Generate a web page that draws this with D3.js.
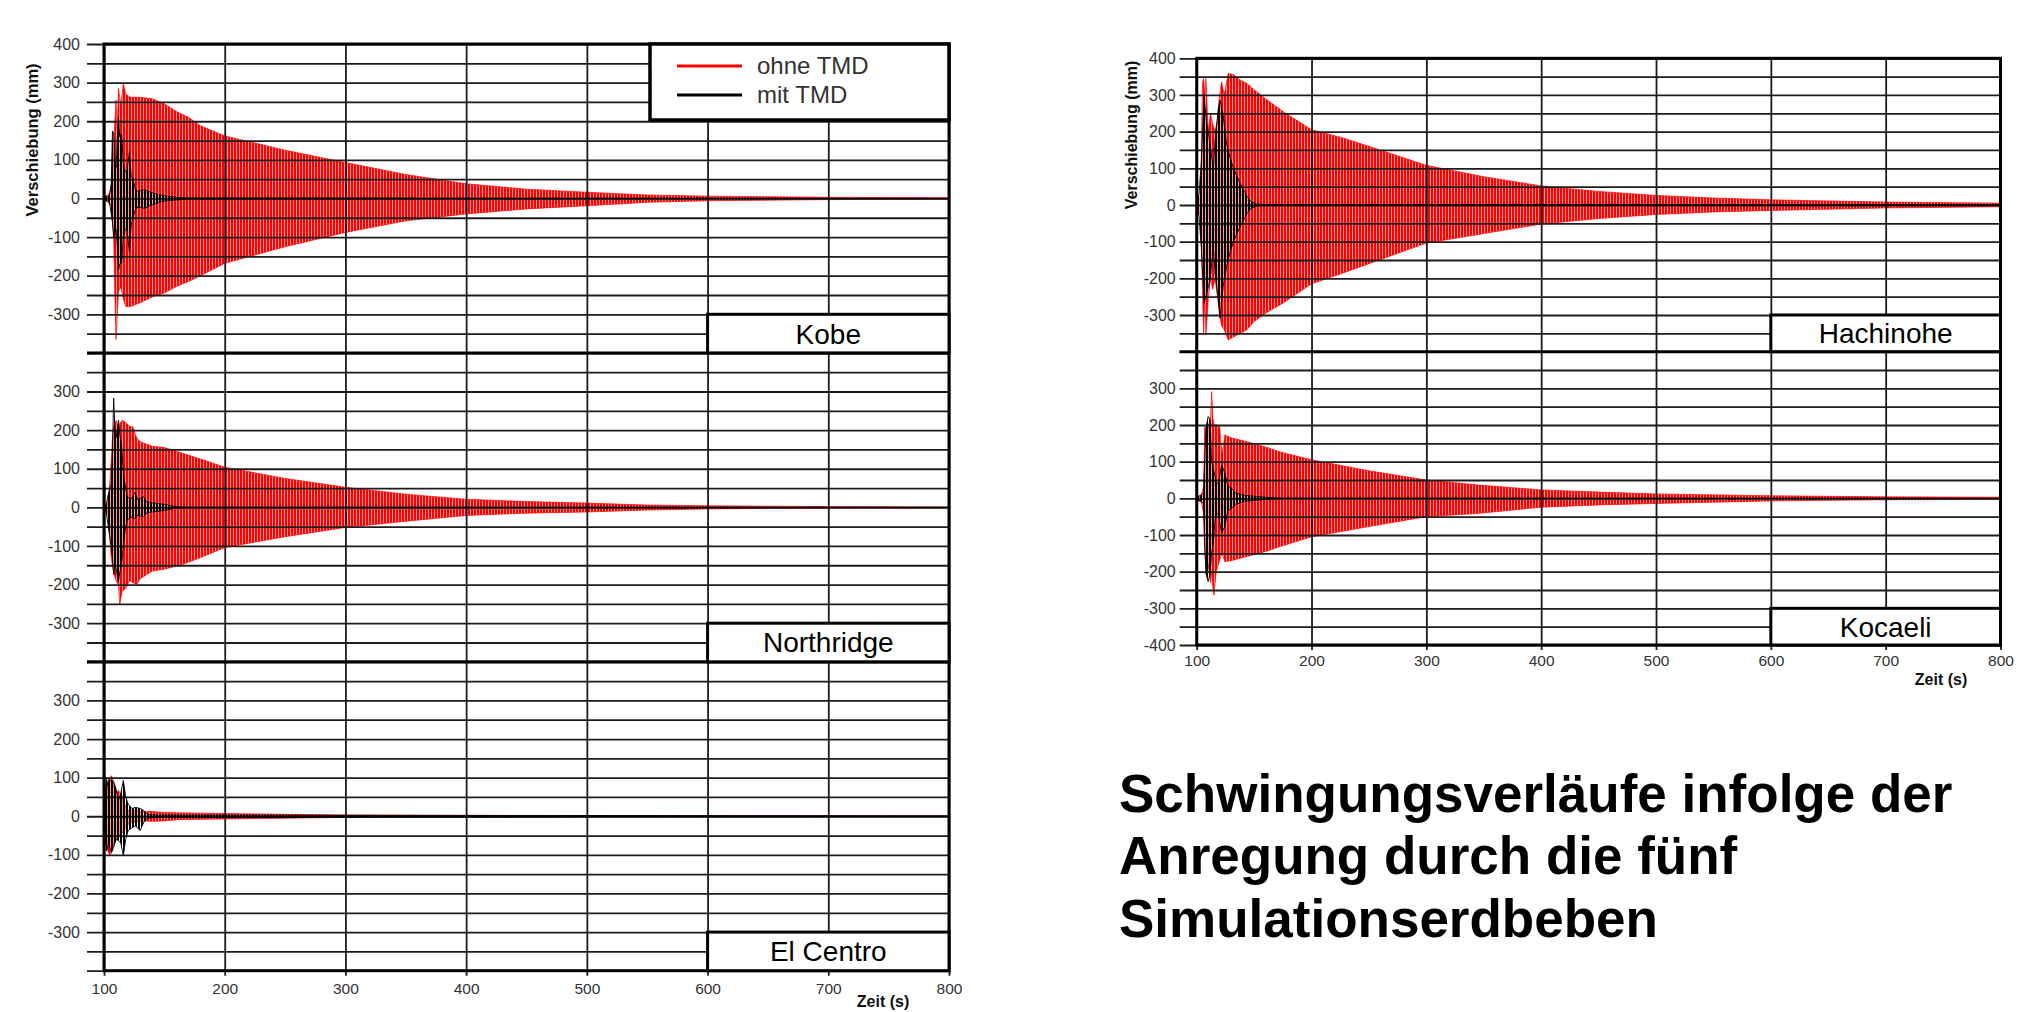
<!DOCTYPE html>
<html>
<head>
<meta charset="utf-8">
<script src="https://cdn.jsdelivr.net/npm/d3@7"></script>
<style>
body { margin: 0; background: #fff; }
svg { display: block; font-family: "Liberation Sans", Arial, sans-serif; }
</style>
</head>
<body>
<svg id="chart" width="2035" height="1012"></svg>
<script>
// ticks
var xTicks = [100, 200, 300, 400, 500, 600, 700, 800];
var gridLevels = d3.range(-400, 401, 50);
var labelsFirst = [400, 300, 200, 100, 0, -100, -200, -300];
var labelsMiddle = [300, 200, 100, 0, -100, -200, -300];
var labelsLast = [300, 200, 100, 0, -100, -200, -300, -400];

var seriesNames = ["ohne TMD", "mit TMD"];
var titleLines = ["Schwingungsverläufe infolge der", "Anregung durch die fünf", "Simulationserdbeben"];

// envelopes: [zeit (s), max (mm), min (mm)]
var kobeOhne = [[100,5,-5],[104,10,-10],[106,30,-20],[108,120,-100],[109,200,-250],[110,255,-365],[111,180,-300],
  [112,285,-240],[114,240,-230],[116,298,-260],[118,270,-280],[122,262,-280],[130,262,-270],[140,258,-255],
  [150,245,-245],[160,225,-228],[170,210,-215],[180,188,-200],[200,162,-168],[250,125,-125],[300,93,-88],
  [350,62,-58],[400,38,-40],[450,24,-27],[500,16,-19],[550,9,-10],[600,6,-6],[700,3,-3],[800,2,-2]];
var kobeMit = [[100,2,-2],[104,5,-8],[105,15,-20],[106,40,-40],[107,175,-60],[108,170,-100],[109,100,-90],
  [110,80,-80],[111,150,-120],[112,212,-186],[113,160,-170],[114.6,168,-168],[116,90,-100],[117.5,70,-80],
  [119,70,-80],[121,121,-138],[122.5,60,-70],[124,50,-50],[126,25,-30],[128,18,-22],[131,22,-24],[134,22,-26],
  [137,18,-20],[140,15,-17],[145,10,-11],[150,7,-7],[160,3,-4],[170,1.5,-1.5],[800,0.5,-0.5]];

var northOhne = [[100,3,-3],[103,8,-10],[104,30,-40],[105,70,-90],[106,120,-130],[107,180,-150],[108,209,-170],
  [110,225,-190],[112,200,-200],[113,215,-252],[115,226,-217],[118,220,-210],[121,210,-190],[124,208,-195],
  [127,180,-200],[130,170,-185],[140,158,-165],[150,155,-160],[165,140,-148],[180,125,-130],[200,104,-104],
  [250,75,-76],[300,52,-52],[350,34,-36],[400,21,-21],[450,15,-15],[500,11,-12],[550,6,-7],[600,4,-4],
  [700,2,-2],[800,1,-1]];
var northMit = [[100,0,0],[102,10,-15],[104,40,-60],[106,60,-100],[107,140,-130],[108,283,-174],[109,200,-150],
  [110,180,-160],[112,226,-191],[113,190,-170],[114.6,161,-148],[116,90,-100],[117.5,60,-60],[119,30,-35],
  [122,20,-25],[125.7,39,-30],[128,20,-20],[132.6,28,-25],[135,15,-15],[140,12,-12],[150,8,-8],[158,3,-3],
  [165,1,-1],[800,0.5,-0.5]];

var centroOhne = [[100,5,-5],[102,30,-40],[103,80,-90],[104,60,-95],[105,100,-102],[106,105,-95],[107,100,-90],
  [108,80,-70],[110,60,-60],[112,67,-50],[114,55,-46],[116,40,-40],[118,25,-30],[120,15,-20],[125,15,-15],
  [130,12,-12],[140,12,-13],[150,10,-12],[160,9,-9],[180,8,-8],[200,7,-7],[250,5,-5],[300,3,-3],[400,2,-2],
  [800,1,-1]];
var centroMit = [[100,5,-10],[101,60,-50],[102,101,-89],[103,80,-80],[104,95,-70],[106,93,-94],[108,90,-80],
  [110,70,-60],[112,41,-63],[114,60,-70],[116,93,-102],[118,50,-60],[120,32,-37],[123,20,-30],[126,23,-25],
  [130,20,-37],[133,15,-15],[136,5,-5],[145,3,-3],[800,1,-1]];

var hachiOhne = [[100,10,-15],[103,20,-25],[104,120,-100],[105,335,-230],[106,345,-355],[107,300,-250],
  [108,345,-355],[110,200,-260],[112,250,-200],[114,220,-230],[116,200,-200],[118,230,-250],[120,300,-300],
  [121.7,336,-330],[124,300,-340],[127.5,359,-368],[132,355,-360],[138,340,-350],[143.5,332,-341],
  [150,314,-318],[160,290,-295],[175,255,-268],[200,205,-215],[225,185,-188],[250,160,-160],[300,108,-104],
  [350,77,-78],[400,52,-52],[450,37,-37],[500,26,-26],[550,19,-19],[600,14,-15],[700,8,-8],[800,5,-5]];
var hachiMit = [[100,5,-5],[102,30,-30],[104,114,-114],[106.4,295,-268],[108.7,222,-240],[111.6,168,-205],
  [114.5,95,-114],[116,177,-186],[119,268,-259],[120.3,286,-309],[123,245,-222],[126,168,-168],[129,130,-130],
  [132,100,-100],[137.7,60,-60],[143.5,25,-25],[147,10,-10],[152,3,-3],[160,1,-1],[800,0.5,-0.5]];

var kocaeliOhne = [[100,5,-5],[104,10,-10],[106,30,-40],[107,195,-150],[109,160,-209],[110,200,-180],
  [112,210,-230],[113,291,-200],[114,220,-240],[115,200,-264],[117,200,-200],[120,195,-168],[122,120,-150],
  [124.6,173,-173],[130,165,-170],[143,155,-159],[160,140,-145],[172,127,-132],[200,105,-105],[250,75,-77],
  [300,50,-50],[346,36,-41],[400,23,-24],[450,17,-18],[500,12,-14],[600,7,-7],[700,4,-4],[800,3,-3]];
var kocaeliMit = [[100,3,-3],[104,8,-8],[106,15,-15],[107,100,-120],[108,191,-205],[110,223,-227],
  [111.6,214,-205],[113,100,-150],[114.5,80,-120],[116,60,-60],[117.4,41,-41],[119,40,-45],[121.7,91,-95],
  [124.6,68,-77],[127,35,-35],[130,28,-28],[134,15,-18],[137.7,12,-12],[143,8,-8],[150,6,-6],[160,3,-3],
  [170,1,-1],[800,0.5,-0.5]];

var svg = d3.select("#chart");
var FONT = '"Liberation Sans", Arial, sans-serif';

var defs = svg.append("defs");
var pat = defs.append("pattern")
  .attr("id", "redHatch").attr("patternUnits", "userSpaceOnUse")
  .attr("width", 3).attr("height", 6);
pat.append("rect").attr("width", 3).attr("height", 6).attr("fill", "#ff0000");
pat.append("rect").attr("x", 2).attr("width", 1).attr("height", 6).attr("fill", "#ff9a9a");
// black trace: stripes with gaps so the red shows through a little
var bpat = defs.append("pattern")
  .attr("id", "blackHatch").attr("patternUnits", "userSpaceOnUse")
  .attr("width", 3).attr("height", 6);
bpat.append("rect").attr("width", 2).attr("height", 6).attr("fill", "#000");

function num(d) { return String(d); }

function drawChart(cfg) {
  var g = svg.append("g");
  var n = cfg.panels.length;
  var bottom = cfg.top + cfg.panelH * n;
  var width = cfg.x1 - cfg.x0;
  var x = d3.scaleLinear().domain([100, 800]).range([cfg.x0, cfg.x1]);
  var ys = cfg.panels.map(function(p, i) {
    return d3.scaleLinear().domain([-400, 400])
      .range([cfg.top + (i + 1) * cfg.panelH, cfg.top + i * cfg.panelH]);
  });
  function envelope(y) {
    return d3.area()
      .x(function(d) { return x(d[0]); })
      .y0(function(d) { return y(d[2]); })
      .y1(function(d) { return y(d[1]); });
  }

  // ohne TMD first, grid goes over it
  cfg.panels.forEach(function(p, i) {
    g.append("path").datum(p.ohne).attr("d", envelope(ys[i]))
      .attr("fill", "url(#redHatch)").attr("stroke", "#ff0000").attr("stroke-width", 0.7);
  });

  cfg.panels.forEach(function(p, i) {
    var gy = g.append("g").attr("transform", "translate(" + cfg.x0 + ",0)")
      .call(d3.axisLeft(ys[i]).tickValues(gridLevels).tickSizeInner(-width).tickSizeOuter(0).tickFormat(""));
    gy.select(".domain").remove();
    gy.selectAll(".tick line").attr("x1", -cfg.tickLen).attr("stroke", "#1c1c1c").attr("stroke-width", 1.8);
  });

  var gx = g.append("g").attr("transform", "translate(0," + bottom + ")")
    .call(d3.axisBottom(x).tickValues(xTicks).tickFormat(num)
      .tickSizeInner(-(bottom - cfg.top)).tickSizeOuter(0).tickPadding(cfg.xPad));
  gx.select(".domain").remove();
  gx.attr("font-size", null).attr("font-family", null);
  gx.selectAll(".tick line").attr("y1", 5).attr("stroke", "#1c1c1c").attr("stroke-width", 1.8);
  gx.selectAll(".tick text").attr("font-size", cfg.xFont).attr("fill", "#333").attr("font-family", FONT);

  // mit TMD
  cfg.panels.forEach(function(p, i) {
    g.append("path").datum(p.mit).attr("d", envelope(ys[i]))
      .attr("fill", "url(#blackHatch)").attr("stroke", "#000").attr("stroke-width", 0.9);
  });

  // panel borders and frame
  for (var i = 1; i < n; i++) {
    g.append("line").attr("x1", cfg.x0 - cfg.tickLen).attr("x2", cfg.x1)
      .attr("y1", cfg.top + i * cfg.panelH).attr("y2", cfg.top + i * cfg.panelH)
      .attr("stroke", "#000").attr("stroke-width", 3);
  }
  g.append("rect").attr("x", cfg.x0).attr("y", cfg.top).attr("width", width).attr("height", bottom - cfg.top)
    .attr("fill", "none").attr("stroke", "#000").attr("stroke-width", 3);

  // earthquake name boxes
  cfg.panels.forEach(function(p, i) {
    var y = ys[i];
    g.append("rect").attr("x", x(600)).attr("y", y(-300))
      .attr("width", x(800) - x(600)).attr("height", y(-400) - y(-300))
      .attr("fill", "#fff").attr("stroke", "#000").attr("stroke-width", 3);
    g.append("text").attr("x", (x(600) + x(800)) / 2).attr("y", (y(-300) + y(-400)) / 2 + 10)
      .attr("text-anchor", "middle").attr("font-size", 28).attr("fill", "#000").text(p.name);
  });

  // y labels
  cfg.panels.forEach(function(p, i) {
    var gl = g.append("g").attr("transform", "translate(" + cfg.x0 + ",0)")
      .call(d3.axisLeft(ys[i]).tickValues(p.labels).tickFormat(num).tickSize(0).tickPadding(cfg.yPad));
    gl.select(".domain").remove();
    gl.attr("font-size", null).attr("font-family", null);
    gl.selectAll(".tick text").attr("font-size", 16).attr("fill", "#333").attr("font-family", FONT);
  });

  g.append("text").attr("transform", "translate(" + cfg.titleX + "," + cfg.titleY + ") rotate(-90)")
    .attr("text-anchor", "middle").attr("font-weight", "bold").attr("font-size", cfg.titleFont)
    .attr("fill", "#111").text("Verschiebung (mm)");
  g.append("text").attr("x", cfg.zeitX).attr("y", cfg.zeitY).attr("text-anchor", "middle")
    .attr("font-weight", "bold").attr("font-size", 16).attr("fill", "#111").text("Zeit (s)");
}

drawChart({
  x0: 104, x1: 949, top: 44, panelH: 308.9, tickLen: 17, xPad: 12.5, xFont: 15.5, yPad: 24,
  titleX: 38, titleY: 140, titleFont: 16.5, zeitX: 883, zeitY: 1007,
  panels: [
    { name: "Kobe", ohne: kobeOhne, mit: kobeMit, labels: labelsFirst },
    { name: "Northridge", ohne: northOhne, mit: northMit, labels: labelsMiddle },
    { name: "El Centro", ohne: centroOhne, mit: centroMit, labels: labelsMiddle }
  ]
});

drawChart({
  x0: 1196.7, x1: 2000.5, top: 58.3, panelH: 293.35, tickLen: 17, xPad: 10, xFont: 15.5, yPad: 21,
  titleX: 1137, titleY: 135, titleFont: 16, zeitX: 1941, zeitY: 685,
  panels: [
    { name: "Hachinohe", ohne: hachiOhne, mit: hachiMit, labels: labelsFirst },
    { name: "Kocaeli", ohne: kocaeliOhne, mit: kocaeliMit, labels: labelsLast }
  ]
});

// legend in the Kobe panel
var lg = svg.append("g");
lg.append("rect").attr("x", 650).attr("y", 44).attr("width", 299).attr("height", 76)
  .attr("fill", "#fff").attr("stroke", "#000").attr("stroke-width", 3.5);
var legendColors = ["#ff0000", "#000"];
seriesNames.forEach(function(name, i) {
  var ly = 66 + i * 29;
  lg.append("line").attr("x1", 677).attr("x2", 742).attr("y1", ly).attr("y2", ly)
    .attr("stroke", legendColors[i]).attr("stroke-width", 3);
  lg.append("text").attr("x", 757).attr("y", ly + 7.5).attr("font-size", 24).attr("fill", "#333").text(name);
});

// caption
svg.append("g").selectAll("text").data(titleLines).enter().append("text")
  .attr("x", 1119).attr("y", function(d, i) { return 811.5 + i * 62.6; })
  .attr("font-size", 53).attr("font-weight", "bold").attr("fill", "#000")
  .text(function(d) { return d; });
</script>
</body>
</html>
